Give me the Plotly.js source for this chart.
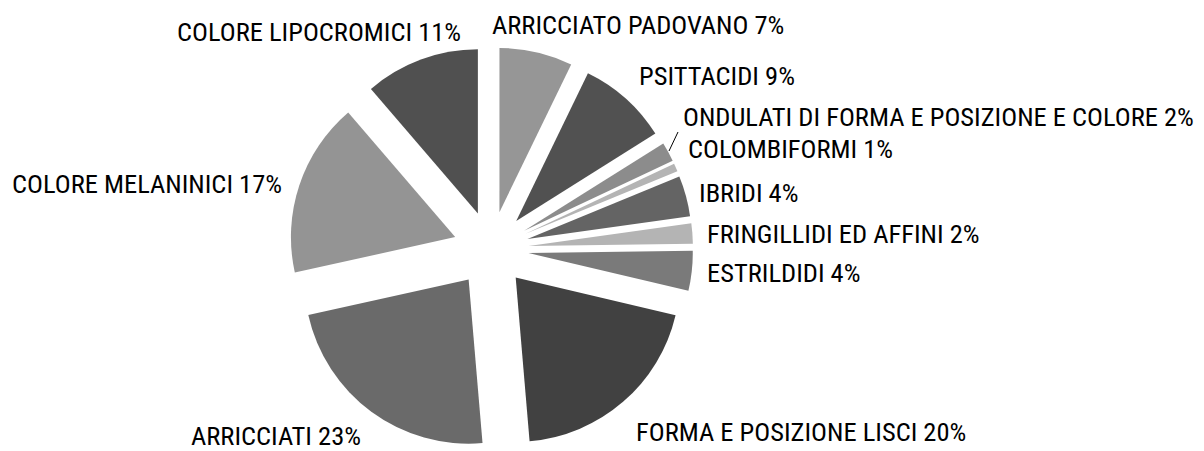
<!DOCTYPE html>
<html>
<head>
<meta charset="utf-8">
<script src="https://cdn.plot.ly/plotly-3.0.1.min.js"></script>
<style>html,body{margin:0;padding:0;background:#fff;}#chart{width:1204px;height:451px;}</style>
</head>
<body>
<div id="chart"></div>
<script>
const categories = [
  "ARRICCIATO PADOVANO",
  "PSITTACIDI",
  "ONDULATI DI FORMA E POSIZIONE E COLORE",
  "COLOMBIFORMI",
  "IBRIDI",
  "FRINGILLIDI ED AFFINI",
  "ESTRILDIDI",
  "FORMA E POSIZIONE LISCI",
  "ARRICCIATI",
  "COLORE MELANINICI",
  "COLORE LIPOCROMICI"
];
const values = [7.2, 8.9, 1.9, 0.8, 4.0, 2.0, 3.9, 20.0, 22.9, 17.2, 11.3];
const sliceColors = ["#969696", "#515151", "#8c8c8c", "#b4b4b4", "#646464", "#b4b4b4", "#7a7a7a", "#414141", "#6a6a6a", "#949494", "#505050"];

// label placement (pixels in the 1204x451 page): [x, y(center), anchor]
const labelPlace = [
  [490, 24, "left"],
  [637, 76, "left"],
  [681, 117, "left"],
  [686, 148, "left"],
  [697, 192, "left"],
  [705, 234, "left"],
  [705, 272, "left"],
  [634, 431, "left"],
  [363, 435, "right"],
  [284, 183, "right"],
  [463, 32, "right"]
];

const W = 1204, H = 451;
const FONT = "Roboto Condensed, Roboto, DejaVu Sans Condensed, sans-serif";
const total = values.reduce((a, b) => a + b, 0);

const trace = {
  type: "pie",
  labels: categories,
  values: values,
  sort: false,
  direction: "clockwise",
  rotation: 0,
  pull: categories.map(() => 0.23),
  marker: {colors: sliceColors, line: {width: 0}},
  textinfo: "none",
  hoverinfo: "label+percent",
  showlegend: false,
  domain: {x: [0, 982 / W], y: [0, 404 / H]}
};

const annotations = categories.map((c, i) => ({
  xref: "paper", yref: "paper",
  x: labelPlace[i][0] / W,
  y: 1 - labelPlace[i][1] / H,
  xanchor: labelPlace[i][2],
  yanchor: "middle",
  text: c + " " + Math.round(values[i] / total * 100) + "%",
  showarrow: false,
  font: {family: FONT, size: 26.5, color: "#000"}
}));

const layout = {
  width: W,
  height: H,
  margin: {l: 0, r: 0, t: 0, b: 0},
  paper_bgcolor: "#fff",
  plot_bgcolor: "#fff",
  showlegend: false,
  annotations: annotations,
  shapes: [{
    type: "line", xref: "paper", yref: "paper",
    x0: 669 / W, y0: 1 - 151 / H, x1: 678 / W, y1: 1 - 132 / H,
    line: {color: "#000", width: 1}
  }]
};

Plotly.newPlot("chart", [trace], layout, {displayModeBar: false, staticPlot: true});
</script>
</body>
</html>
